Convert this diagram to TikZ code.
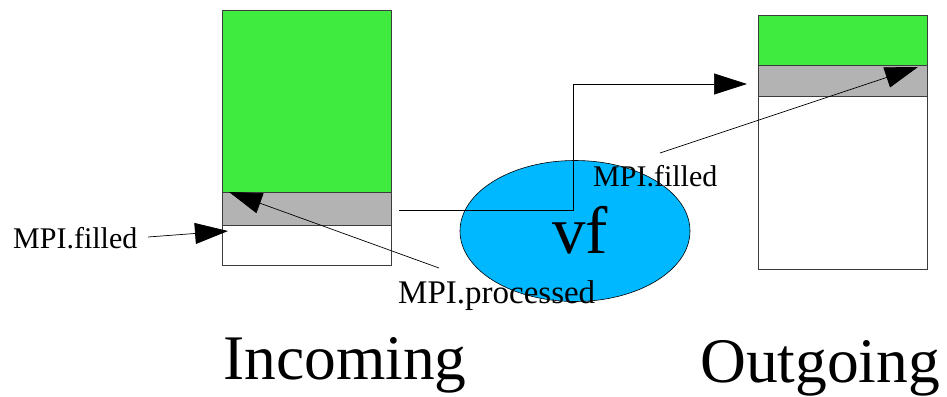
\documentclass[tikz,border=0pt]{standalone}
\usepackage{fontspec}
\setmainfont{Liberation Serif}
\usetikzlibrary{arrows.meta,shapes.geometric}
\definecolor{bufgreen}{RGB}{62,235,62}
\definecolor{bufgray}{RGB}{179,179,179}
\definecolor{vfblue}{RGB}{0,184,255}
\definecolor{edge}{RGB}{60,60,60}
\tikzset{
  seg/.style={draw=edge, line width=0.8pt, minimum width=169pt, inner sep=0pt, outer sep=0pt, anchor=north west},
  lbl/.style={font=\fontsize{30}{30}\selectfont, inner sep=0pt, anchor=base west},
  big/.style={font=\fontsize{63.5}{64}\selectfont, inner sep=0pt, anchor=base west},
  conn/.style={draw=black, line width=0.7pt, -{Triangle[length=33pt,width=21pt]}}
}
\begin{document}
\begin{tikzpicture}[x=1pt,y=-1pt]
\useasboundingbox (0,0) rectangle (947,396);
% Incoming buffer
\node[seg, fill=bufgreen, minimum height=182pt] (ingreen) at (222,10) {};
\node[seg, fill=bufgray, minimum height=33pt] (ingray) at (222,192) {};
\node[seg, fill=white, minimum height=40pt] (inwhite) at (222,225) {};
% Outgoing buffer
\node[seg, fill=bufgreen, minimum height=50pt] (outgreen) at (758,15) {};
\node[seg, fill=bufgray, minimum height=31pt] (outgray) at (758,65) {};
\node[seg, fill=white, minimum height=173pt] (outwhite) at (758,96) {};
% vf ellipse
\node[ellipse, draw=black, line width=0.6pt, fill=vfblue, minimum width=230pt, minimum height=141pt, inner sep=0pt] (vf) at (575,231) {};
\node[font=\fontsize{67}{67}\selectfont, inner sep=0pt, anchor=base] (vftext) at (580,253) {vf};
% labels
\node[lbl] (lfill) at (13,248) {MPI.filled};
\node[lbl, font=\fontsize{33}{33}\selectfont] (lproc) at (398,303) {MPI.processed};
\node[lbl] (rfill) at (593,186) {MPI.filled};
\node[big] (incoming) at (223,379) {Incoming};
\node[big] (outgoing) at (700,382) {Outgoing};
% connector coordinates
\coordinate (srcA) at (399,210);
\coordinate (bendA) at (573,210);
\coordinate (bendB) at (573,84);
\coordinate (tipA) at (747,84);
\coordinate (lfillS) at (148,237);
\coordinate (lfillT) at (228,231);
\coordinate (lprocS) at (439,268);
\coordinate (lprocT) at (229,192);
\coordinate (rfillS) at (660,153);
\coordinate (rfillT) at (918,67);
% connectors
\draw[conn] (srcA) -- (bendA) -- (bendB) -- (tipA);
\draw[conn] (lfillS) -- (lfillT);
\draw[conn] (lprocS) -- (lprocT);
\draw[conn] (rfillS) -- (rfillT);
\end{tikzpicture}
\end{document}
